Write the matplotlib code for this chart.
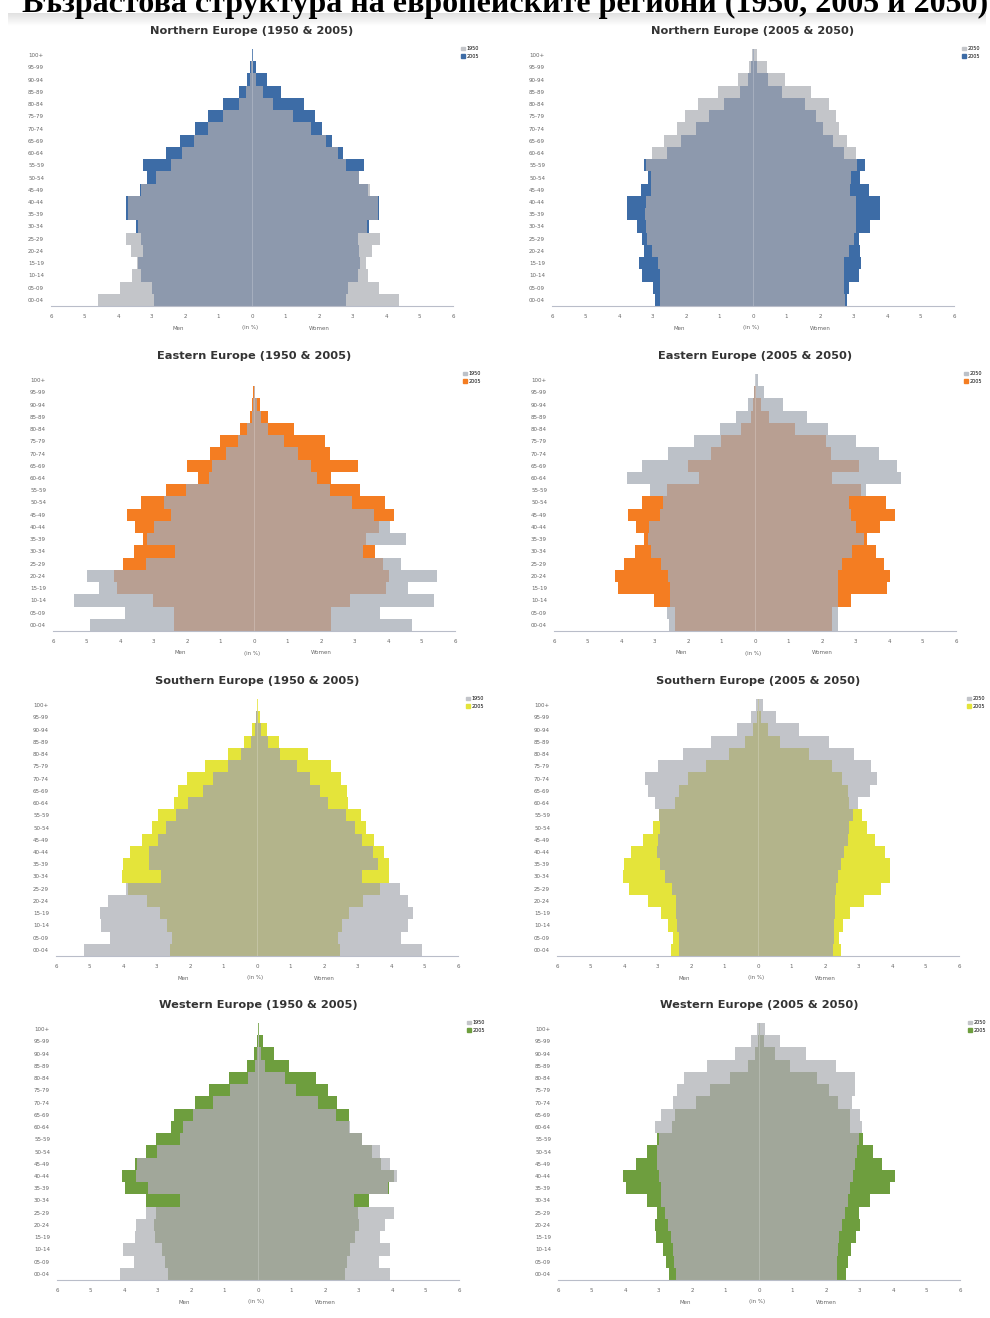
import numpy as np
import matplotlib.pyplot as plt
from matplotlib.patches import Patch

# age groups, bottom to top
ages = ['00-04', '05-09', '10-14', '15-19', '20-24', '25-29', '30-34', '35-39',
        '40-44', '45-49', '50-54', '55-59', '60-64', '65-69', '70-74', '75-79',
        '80-84', '85-89', '90-94', '95-99', '100+']

# share of population in %, men (m) and women (w)
n1950_m = [4.60, 3.93, 3.59, 3.44, 3.62, 3.76, 3.40, 3.70, 3.70, 3.30, 2.87, 2.42, 2.09, 1.72, 1.30, 0.88, 0.38, 0.18, 0.06, 0.02, 0.01]
n1950_w = [4.38, 3.78, 3.46, 3.39, 3.59, 3.83, 3.42, 3.75, 3.75, 3.53, 3.19, 2.81, 2.56, 2.21, 1.76, 1.22, 0.64, 0.32, 0.12, 0.03, 0.01]
n2005_m = [2.92, 3.00, 3.30, 3.39, 3.25, 3.30, 3.45, 3.76, 3.75, 3.35, 3.12, 3.24, 2.57, 2.15, 1.70, 1.32, 0.88, 0.38, 0.14, 0.05, 0.01]
n2005_w = [2.82, 2.86, 3.15, 3.23, 3.20, 3.16, 3.48, 3.80, 3.80, 3.45, 3.18, 3.33, 2.72, 2.38, 2.10, 1.88, 1.54, 0.86, 0.44, 0.11, 0.02]
n2050_m = [2.79, 2.79, 2.79, 2.84, 3.02, 3.17, 3.19, 3.22, 3.19, 3.04, 3.04, 3.20, 3.02, 2.65, 2.27, 2.02, 1.65, 1.05, 0.45, 0.11, 0.03]
n2050_w = [2.74, 2.71, 2.71, 2.71, 2.86, 3.01, 3.06, 3.06, 3.06, 2.91, 2.94, 3.11, 3.06, 2.81, 2.56, 2.48, 2.26, 1.72, 0.95, 0.42, 0.12]

e1950_m = [4.91, 3.84, 5.36, 4.63, 4.99, 3.22, 2.35, 3.20, 3.00, 2.48, 2.68, 2.03, 1.34, 1.24, 0.84, 0.47, 0.20, 0.06, 0.03, 0.01, 0.01]
e1950_w = [4.73, 3.77, 5.38, 4.61, 5.46, 4.39, 3.25, 4.53, 4.07, 3.57, 2.93, 2.28, 1.88, 1.69, 1.32, 0.89, 0.43, 0.20, 0.08, 0.02, 0.01]
e2005_m = [2.39, 2.40, 3.02, 4.10, 4.17, 3.90, 3.59, 3.30, 3.56, 3.80, 3.38, 2.64, 1.68, 1.99, 1.32, 1.02, 0.42, 0.11, 0.07, 0.02, 0.01]
e2005_w = [2.29, 2.30, 2.87, 3.93, 4.03, 3.86, 3.60, 3.33, 3.73, 4.17, 3.92, 3.15, 2.30, 3.09, 2.28, 2.12, 1.20, 0.42, 0.17, 0.04, 0.01]
e2050_m = [2.58, 2.62, 2.55, 2.53, 2.60, 2.82, 3.10, 3.20, 3.15, 2.85, 2.75, 3.12, 3.82, 3.37, 2.60, 1.81, 1.03, 0.57, 0.20, 0.04, 0.01]
e2050_w = [2.47, 2.49, 2.47, 2.49, 2.47, 2.61, 2.91, 3.25, 3.01, 2.86, 2.81, 3.31, 4.37, 4.25, 3.71, 3.01, 2.17, 1.55, 0.83, 0.26, 0.08]

s1950_m = [5.15, 4.40, 4.65, 4.68, 4.45, 3.90, 2.86, 3.23, 3.23, 2.96, 2.71, 2.41, 2.06, 1.61, 1.31, 0.87, 0.47, 0.17, 0.05, 0.02, 0.01]
s1950_w = [4.94, 4.31, 4.51, 4.66, 4.51, 4.26, 3.12, 3.62, 3.47, 3.12, 2.92, 2.67, 2.12, 1.89, 1.57, 1.18, 0.68, 0.33, 0.13, 0.04, 0.01]
s2005_m = [2.60, 2.55, 2.68, 2.90, 3.27, 3.85, 4.02, 4.00, 3.78, 3.43, 3.12, 2.95, 2.48, 2.37, 2.08, 1.55, 0.88, 0.40, 0.14, 0.04, 0.01]
s2005_w = [2.48, 2.43, 2.55, 2.74, 3.15, 3.66, 3.94, 3.95, 3.80, 3.48, 3.24, 3.10, 2.72, 2.70, 2.50, 2.20, 1.53, 0.66, 0.30, 0.08, 0.02]
s2050_m = [2.37, 2.37, 2.41, 2.44, 2.44, 2.58, 2.78, 2.93, 3.01, 2.98, 2.93, 2.95, 3.08, 3.28, 3.36, 3.00, 2.24, 1.39, 0.62, 0.20, 0.05]
s2050_w = [2.24, 2.27, 2.27, 2.29, 2.29, 2.34, 2.39, 2.49, 2.58, 2.68, 2.73, 2.83, 2.98, 3.33, 3.56, 3.38, 2.88, 2.11, 1.21, 0.55, 0.15]

w1950_m = [4.11, 3.71, 4.03, 3.68, 3.63, 3.35, 2.34, 3.28, 3.63, 3.62, 3.01, 2.34, 2.24, 1.94, 1.34, 0.85, 0.30, 0.10, 0.03, 0.01, 0.01]
w1950_w = [3.93, 3.61, 3.93, 3.63, 3.78, 4.05, 2.86, 3.88, 4.15, 3.95, 3.63, 3.11, 2.74, 2.32, 1.79, 1.14, 0.80, 0.20, 0.10, 0.02, 0.01]
w2005_m = [2.70, 2.78, 2.88, 3.08, 3.10, 3.03, 3.35, 3.96, 4.06, 3.68, 3.34, 3.03, 2.60, 2.50, 1.88, 1.46, 0.86, 0.33, 0.12, 0.03, 0.01]
w2005_w = [2.60, 2.66, 2.75, 2.90, 3.00, 2.98, 3.32, 3.90, 4.05, 3.68, 3.40, 3.10, 2.72, 2.72, 2.35, 2.10, 1.73, 0.92, 0.48, 0.15, 0.03]
w2050_m = [2.48, 2.53, 2.58, 2.63, 2.73, 2.81, 2.93, 2.93, 2.98, 3.03, 3.03, 3.00, 3.10, 2.93, 2.58, 2.45, 2.25, 1.56, 0.72, 0.23, 0.05]
w2050_w = [2.33, 2.33, 2.35, 2.38, 2.48, 2.58, 2.65, 2.71, 2.81, 2.88, 2.93, 2.98, 3.08, 3.01, 2.78, 2.88, 2.88, 2.31, 1.39, 0.63, 0.17]

regions = ['Northern Europe', 'Eastern Europe', 'Southern Europe', 'Western Europe']
# colour of 2005, colour where both years overlap, grey of the other year
colors = ['#3d6ca6', '#f47d22', '#e4e43a', '#6e9e3e']
blends = ['#8d99ad', '#b89f92', '#b3b48b', '#a1a79a']
greys = ['#c3c5c9', '#bcc1c8', '#c2c4c9', '#c3c5c8']

data = [
    (n1950_m, n1950_w, n2005_m, n2005_w, n2050_m, n2050_w),
    (e1950_m, e1950_w, e2005_m, e2005_w, e2050_m, e2050_w),
    (s1950_m, s1950_w, s2005_m, s2005_w, s2050_m, s2050_w),
    (w1950_m, w1950_w, w2005_m, w2005_w, w2050_m, w2050_w),
]

W, H = 990, 1318
fig = plt.figure(figsize=(W / 100, H / 100), dpi=100)
fig.patch.set_facecolor('white')

# faint grey band under the cut title
band = fig.add_axes([8 / W, 1 - 26 / H, 977 / W, 13 / H])
band.imshow(np.linspace(0.88, 1.0, 50).reshape(-1, 1), cmap='gray', vmin=0, vmax=1,
            aspect='auto', extent=(0, 1, 0, 1))
band.axis('off')

fig.text(22 / W, 1 - 12 / H, 'Възрастова структура на европейските региони (1950, 2005 и 2050)',
         fontsize=23, fontweight='bold', family='Liberation Serif', va='baseline', ha='left')

row_off = [0, 325, 650, 974]
x_left = [51, 53, 56, 57]
x_right = [552, 554, 557, 558]
y = np.arange(len(ages))


def pyramid(ax, grey_m, grey_w, col_m, col_w, grey, col, blend, title, labels):
    gm, gw = np.array(grey_m), np.array(grey_w)
    cm, cw = np.array(col_m), np.array(col_w)
    kw = dict(height=1.0, linewidth=0)
    ax.barh(y, -gm, color=grey, **kw)
    ax.barh(y, gw, color=grey, **kw)
    ax.barh(y, -cm, color=col, **kw)
    ax.barh(y, cw, color=col, **kw)
    ax.barh(y, -np.minimum(gm, cm), color=blend, **kw)
    ax.barh(y, np.minimum(gw, cw), color=blend, **kw)
    ax.axvline(0, color='white', lw=0.6, alpha=0.25)

    ax.set_xlim(-6, 6)
    ax.set_ylim(-0.5, len(ages) - 0.5)
    ticks = np.arange(-6, 7)
    ax.set_xticks(ticks)
    ax.set_xticklabels([str(abs(t)) for t in ticks])
    ax.set_yticks(y)
    ax.set_yticklabels(ages)
    ax.tick_params(length=0, labelsize=4, colors='#666666')
    ax.tick_params(axis='x', pad=6)
    ax.tick_params(axis='y', pad=5)
    for s in ['left', 'right', 'top']:
        ax.spines[s].set_visible(False)
    ax.spines['bottom'].set_color('#b9bdc9')
    ax.spines['bottom'].set_linewidth(0.8)

    ax.text(0.5, 1 + 18 / 257, title, transform=ax.transAxes, ha='center', va='center',
            fontsize=8.2, fontweight='bold', color='#333333')
    tr = ax.get_xaxis_transform()
    for xv, txt in [(-2.2, 'Men'), (-0.05, '(in %)'), (2.0, 'Women')]:
        ax.text(xv, -22 / 257, txt, transform=tr, ha='center', va='center',
                fontsize=4, color='#666666')

    handles = [Patch(color=grey), Patch(color=col)]
    ax.legend(handles, labels, loc='upper right', bbox_to_anchor=(1.07, 1.02),
              frameon=False, fontsize=3.5, handlelength=0.7, handleheight=0.7,
              handletextpad=0.3, labelspacing=0.5, borderpad=0)


for r, reg in enumerate(regions):
    y50m, y50w, y05m, y05w, y50fm, y50fw = data[r]
    bottom = 1 - (306 + row_off[r]) / H
    hgt = 257 / H
    ax1 = fig.add_axes([x_left[r] / W, bottom, 402 / W, hgt])
    pyramid(ax1, y50m, y50w, y05m, y05w, greys[r], colors[r], blends[r],
            reg + ' (1950 & 2005)', ['1950', '2005'])
    ax2 = fig.add_axes([x_right[r] / W, bottom, 402 / W, hgt])
    pyramid(ax2, y50fm, y50fw, y05m, y05w, greys[r], colors[r], blends[r],
            reg + ' (2005 & 2050)', ['2050', '2005'])

fig.savefig('out.png', dpi=100)
